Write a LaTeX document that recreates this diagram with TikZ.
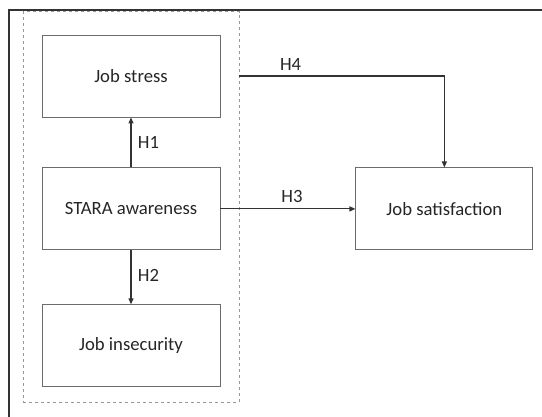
\documentclass[tikz,border=0pt]{standalone}
\usepackage{fontspec}
\setmainfont{Carlito}
\usetikzlibrary{arrows.meta, positioning, fit}
\usepackage{xcolor}

\begin{document}
\begin{tikzpicture}[x=1pt, y=-1pt, node distance=50pt, >={Triangle[length=6pt,width=5pt]},
  box/.style={rectangle, draw=gray!85!black, line width=0.9pt, fill=white, minimum height=82pt, minimum width=178pt, align=center, font=\fontsize{18.7}{22}\selectfont, text=black!85},
  link/.style={->, line width=1.1pt, draw=black!80},
  hyp/.style={font=\fontsize{18.7}{22}\selectfont, text=black!85}]
  \useasboundingbox (0,0) rectangle (542,417);
  % frame (cut at right and bottom)
  \draw[line width=1.2pt, black!80] (542,10) -- (9,10) -- (9,417);
  \node[box] (stress) at (131,76) {Job stress};
  \node[box, below=50pt of stress] (stara) {STARA awareness};
  \node[box, below=54pt of stara] (insecure) {Job insecurity};
  \node[box, right=135pt of stara, minimum width=177pt] (satisfy) {Job satisfaction};
  \node[draw=gray!80, dashed, line width=0.9pt, inner xsep=18.5pt, inner ysep=19pt, yshift=4pt, fit=(stress)(insecure)] (group) {};
  \draw[link] (stara) -- node[hyp, right=3pt]{H1} (stress);
  \draw[link] (stara) -- node[hyp, right=3pt, yshift=2pt]{H2} (insecure);
  \draw[link] (stara) -- node[hyp, above=2pt, xshift=4pt]{H3} (satisfy);
  \draw[link] (stress.east -| group.east) -| node[hyp, above=2pt, pos=0.125]{H4} (satisfy.north);
\end{tikzpicture}
\end{document}
